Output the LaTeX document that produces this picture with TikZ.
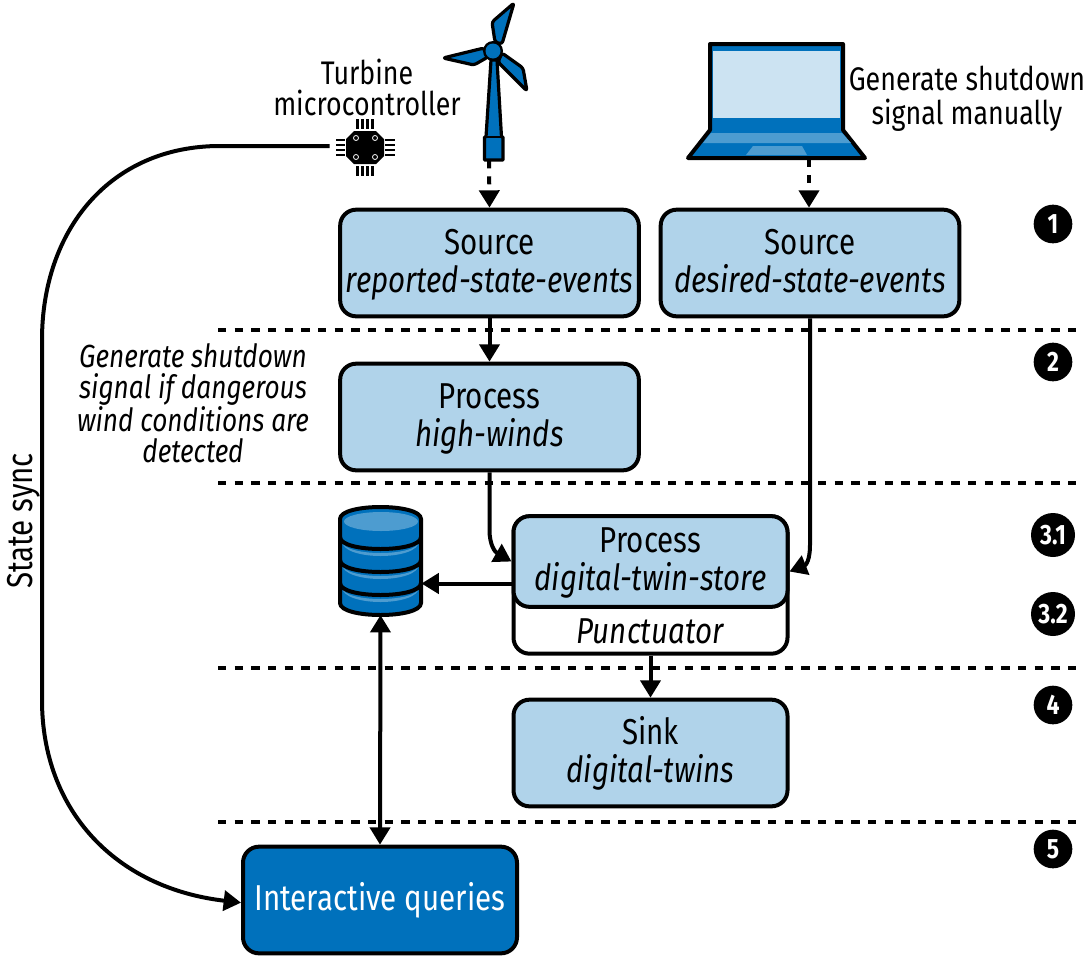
\documentclass[tikz,border=0pt]{standalone}
\usepackage{fontspec}
\setmainfont[FakeStretch=0.82]{Fira Sans}
\definecolor{BoxBlue}{HTML}{B0D3EA}
\definecolor{DeepBlue}{HTML}{0071BC}
\definecolor{MidBlue}{HTML}{4D9CD0}
\definecolor{PaleBlue}{HTML}{CCE3F2}
\usetikzlibrary{arrows.meta,positioning}
\tikzset{
    stagebox/.style={draw,line width=3pt,rounded corners=12pt,fill=BoxBlue,minimum width=224pt,minimum height=80pt,align=center,font=\fontsize{27}{28.5}\selectfont,inner sep=0pt,text height=49.5pt,text depth=6pt},
    twinbox/.style={stagebox,minimum width=205.5pt},
    flow/.style={line width=3pt,-{Triangle[length=13pt,width=15pt]}},
    feed/.style={flow,dash pattern=on 6pt off 6pt},
    stageline/.style={line width=2.6pt,dash pattern=on 6.25pt off 6.25pt},
    badge/.style={circle,fill=black,text=white,inner sep=0pt,minimum size=29pt,font=\fontsize{21}{21}\selectfont\bfseries},
    note/.style={align=center,font=\fontsize{24.5}{23.3}\selectfont},
    iconline/.style={line width=2.4pt,line join=round}
}
\begin{document}
\begin{tikzpicture}[x=0.75pt,y=-0.75pt]
    \useasboundingbox (0,0) rectangle (1086,957);

    \node[minimum width=60pt,minimum height=120pt] (turbine) at (489,80) {};
    \node[minimum width=134pt,minimum height=87pt] (laptop) at (809,101) {};
    \node[minimum width=52.5pt,minimum height=46pt] (chip) at (365,146) {};
    \node[minimum width=61pt,minimum height=80pt] (database) at (380.5,561.5) {};

    \draw[iconline,fill=DeepBlue] (491,60) -- (486,137) -- (484.5,137) -- (484.5,160) -- (503,160) -- (503,137) -- (501.5,137) -- (497,60) -- cycle;
    \draw[iconline,fill=DeepBlue,rounded corners=2pt] (514,3) -- (492,22) -- (495,42) -- (502,44) -- cycle;
    \draw[iconline,fill=DeepBlue,rounded corners=2pt] (443,58) -- (484,48) -- (488,57) -- (474,65) -- cycle;
    \draw[iconline,fill=DeepBlue,rounded corners=2pt] (527,91) -- (523,68) -- (502,53) -- (498,62) -- cycle;
    \fill (493,51) circle (10);
    \fill[DeepBlue] (493,51) circle (7.5);
    \draw[line width=2pt] (486,137) -- (502,137);

    \draw[line width=3pt,line join=round,fill=DeepBlue] (710,130) -- (710,44) -- (843,44) -- (843,130) -- (865,158) -- (688,158) -- cycle;
    \fill[PaleBlue] (713,51) rectangle (840,118);
    \fill[MidBlue] (711,133) -- (842,133) -- (851,143) -- (703,143) -- cycle;
    \fill[MidBlue] (753,146) -- (802,146) -- (807,155) -- (746,155) -- cycle;

    \fill (354,131) -- (376,131) -- (384,139) -- (384,156) -- (376,164) -- (354,164) -- (346,156) -- (346,139) -- cycle;
    \foreach \px in {357.5,362.5,367.5,372.5} {
        \draw[line width=2pt] (\px,119) -- (\px,129);
        \draw[line width=2pt] (\px,166) -- (\px,176);
    }
    \foreach \py in {140,145,150,155} {
        \draw[line width=2pt] (336,\py) -- (345,\py);
        \draw[line width=2pt] (385,\py) -- (395,\py);
    }
    \foreach \px/\py in {356/138,375/138,356/157,375/157} {
        \draw[white,line width=0.6pt] (\px,\py) circle (2.5);
    }

    \draw[line width=3pt,fill=DeepBlue] (340,519) -- (340,603) .. controls (340,619) and (421,619) .. (421,603) -- (421,519) .. controls (421,503) and (340,503) .. (340,519) -- cycle;
    \fill[MidBlue] (381,521.5) ellipse (37 and 9.5);
    \foreach \py in {537,560,583} {
        \fill[MidBlue] (342,\py+4) .. controls (342,\py+20) and (419,\py+20) .. (419,\py+4) .. controls (419,\py+24) and (342,\py+24) .. (342,\py+4) -- cycle;
        \draw[line width=3pt] (340,\py) .. controls (340,\py+16) and (421,\py+16) .. (421,\py);
    }

    \node[stagebox] (reported) at (489.5,263) {Source\\\textit{reported-state-events}};
    \node[stagebox] (desired) at (810,263) {Source\\\textit{desired-state-events}};
    \node[stagebox] (winds) at (489.5,417) {Process\\\textit{high-winds}};
    \node[twinbox,fill=white,minimum height=103pt,text height=21pt] (punctuator) at (650.5,585) {\raisebox{-36.5pt}[0pt][0pt]{\textit{Punctuator}}};
    \node[twinbox,minimum height=68pt] (store) at (650.5,561.5) {Process\\\textit{digital-twin-store}};
    \node[twinbox] (sink) at (650.5,753) {Sink\\\textit{digital-twins}};
    \node[twinbox,fill=DeepBlue,text=white,text height=21pt] (queries) at (380,900) {Interactive queries};

    \draw[stageline] (218,330) -- (1082,330);
    \draw[stageline] (218,483) -- (1082,483);
    \draw[stageline] (218,668) -- (1082,668);
    \draw[stageline] (218,822) -- (1082,822);

    \node[note] (turbinelabel) at (367,87) {Turbine\\microcontroller};
    \node[note] (manuallabel) at (967,99) {Generate shutdown\\[2pt]signal manually};
    \node[note,font=\fontsize{24}{23.3}\selectfont] (windslabel) at (193,403) {\textit{Generate shutdown}\\\textit{signal if dangerous}\\\textit{wind conditions are}\\\textit{detected}};
    \node[note,rotate=90,font=\fontsize{27}{27}\selectfont] (synclabel) at (24,521) {State sync};

    \node[badge] (stepone) at (1053,224) {1};
    \node[badge] (steptwo) at (1053,362) {2};
    \node[badge,minimum size=33pt] (stepthreeone) at (1053,535) {3.1};
    \node[badge,minimum size=33pt] (stepthreetwo) at (1053,614) {3.2};
    \node[badge] (stepfour) at (1053,705) {4};
    \node[badge] (stepfive) at (1053,849) {5};

    \draw[feed] (turbine.south) -- (reported.north);
    \draw[feed] (laptop.south) -- (laptop.south |- desired.north);
    \draw[flow] (reported.south) -- (winds.north);
    \draw[flow] (winds.south) -- (489.5,530) .. controls (489.5,545) and (495,552) .. (store.west);
    \draw[flow] (desired.south) -- (810,545) .. controls (810,560) and (806,565) .. ([yshift=-7.5pt]store.east);
    \draw[flow] ([yshift=-16.5pt]store.west) -- ([yshift=-16.5pt]database.east);
    \draw[flow] (punctuator.south) -- (sink.north);
    \draw[line width=3pt,{Triangle[length=13pt,width=15pt]}-{Triangle[length=13pt,width=15pt]}] (database.south) -- (queries.north);
    \draw[flow] (chip.west) -- (220,146) .. controls (110,146) and (42,230) .. (42,340) -- (42,700) .. controls (42,810) and (115,888) .. ([yshift=-2pt]queries.west);
\end{tikzpicture}
\end{document}
